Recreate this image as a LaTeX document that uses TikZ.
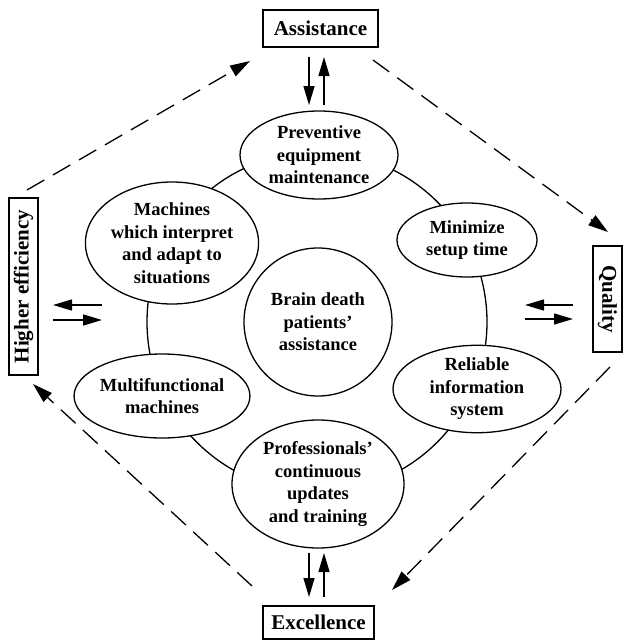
\documentclass[tikz,border=0pt]{standalone}
\usepackage{fontspec}
\setmainfont{Liberation Serif}
\usetikzlibrary{shapes.geometric,arrows.meta}
\begin{document}
\begin{tikzpicture}[x=1pt,y=-1pt,
 lab/.style={font=\fontsize{18.5}{22.5}\selectfont\bfseries, align=center},
 oval/.style={ellipse, draw, line width=1.3pt, fill=white, inner sep=0pt, lab},
 boxl/.style={draw, line width=1.4pt, inner sep=0pt, font=\fontsize{21}{25}\selectfont\bfseries},
 sarrow/.style={line width=1.4pt, -{Triangle[length=19pt,width=11pt]}},
 darrow/.style={line width=1.3pt, dash pattern=on 20pt off 10pt, -{Triangle[length=20pt,width=12pt]}},
]
\useasboundingbox (0,0) rectangle (624,640);

% outer boxes
\node[boxl, minimum width=115pt, minimum height=37pt] (asst) at (320.5,28.5) {Assistance};
\node[boxl, minimum width=111pt, minimum height=33pt] (exc) at (318.5,622.5) {Excellence};
\node[boxl, rotate=90, minimum width=177pt, minimum height=29pt] (heff) at (23.5,286.5) {Higher efficiency};
\node[boxl, rotate=-90, minimum width=106pt, minimum height=29pt] (qual) at (607.5,299) {Quality};

% ring
\node[circle, draw, line width=1.3pt, minimum size=340pt, inner sep=0pt] (ring) at (317,322) {};

% center and ellipses
\node[circle, draw, line width=1.3pt, fill=white, minimum size=148pt, inner sep=0pt, lab] (brain) at (318,322) {Brain death\\patients'\\assistance};
\node[oval, minimum width=158pt, minimum height=88pt] (prev) at (319,155) {Preventive\\equipment\\maintenance};
\node[oval, minimum width=140pt, minimum height=74pt] (mini) at (467,240) {Minimize\\setup time};
\node[oval, minimum width=168pt, minimum height=84pt] (reli) at (477,389) {Reliable\\information\\system};
\node[oval, minimum width=172pt, minimum height=128pt] (prof) at (318,484) {Professionals'\\continuous\\updates\\and training};
\node[oval, minimum width=158pt, minimum height=84pt] (multi) at (162,396) {Multifunctional\\machines};
\node[oval, minimum width=146pt, minimum height=122pt] (mach) at (172,243) {Machines\\which interpret\\and adapt to\\situations};

% arrow end points
\coordinate (t1) at (309,57);  \coordinate (t2) at (309,105);
\coordinate (t3) at (324,105); \coordinate (t4) at (324,57);
\coordinate (b1) at (309,553); \coordinate (b2) at (309,597);
\coordinate (b3) at (324,597); \coordinate (b4) at (324,553);
\coordinate (l1) at (102,305); \coordinate (l2) at (53,305);
\coordinate (l3) at (53,320);  \coordinate (l4) at (102,320);
\coordinate (r1) at (573,305); \coordinate (r2) at (525,305);
\coordinate (r3) at (525,319); \coordinate (r4) at (573,319);

\draw[sarrow] (t1) -- (t2);
\draw[sarrow] (t3) -- (t4);
\draw[sarrow] (b1) -- (b2);
\draw[sarrow] (b3) -- (b4);
\draw[sarrow] (l1) -- (l2);
\draw[sarrow] (l3) -- (l4);
\draw[sarrow] (r1) -- (r2);
\draw[sarrow] (r3) -- (r4);

% dashed arrows
\coordinate (d1s) at (27,190);  \coordinate (d1e) at (250,61);
\coordinate (d2s) at (373,60);  \coordinate (d2e) at (608,232);
\coordinate (d3s) at (610,367); \coordinate (d3e) at (392,590);
\coordinate (d4s) at (252,586); \coordinate (d4e) at (33,384);
\draw[darrow] (d1s) -- (d1e);
\draw[darrow] (d2s) -- (d2e);
\draw[darrow] (d3s) -- (d3e);
\draw[darrow] (d4s) -- (d4e);
\end{tikzpicture}
\end{document}
